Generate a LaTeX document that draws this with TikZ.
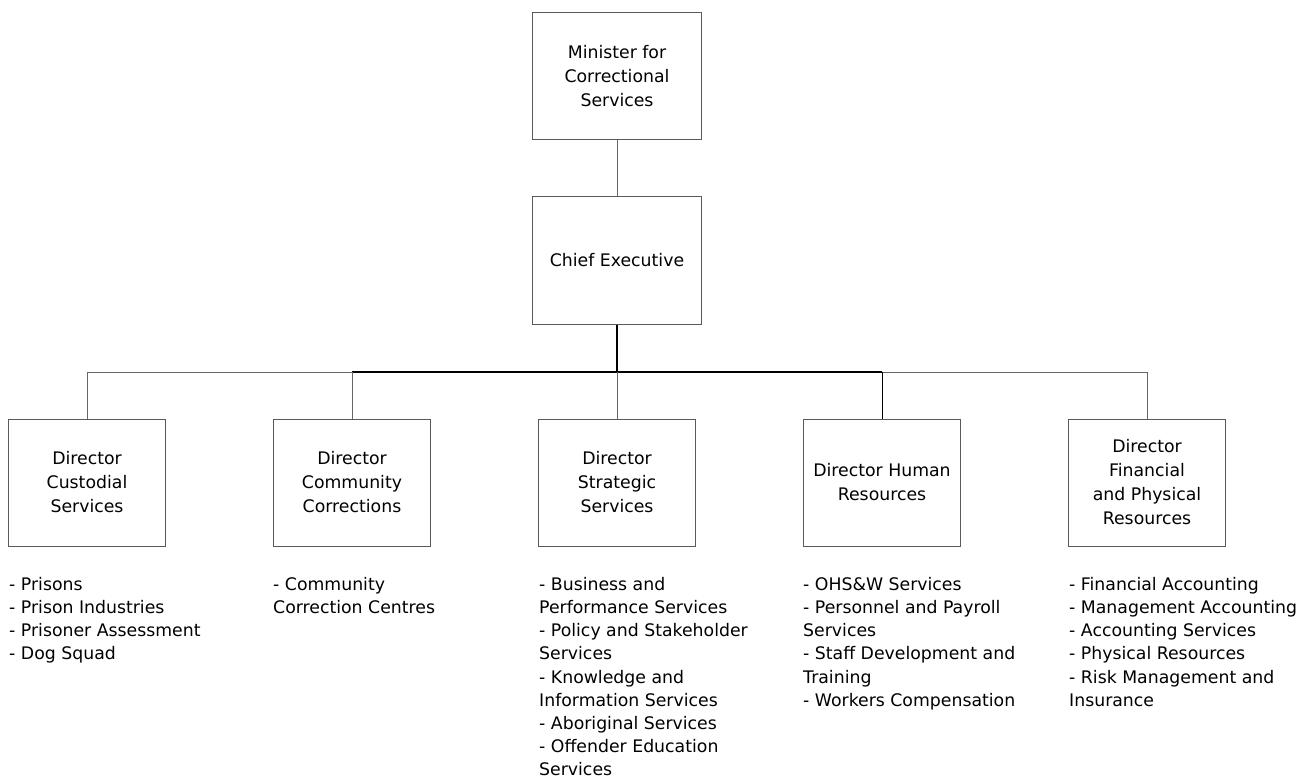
\documentclass[tikz,border=0pt]{standalone}
\usepackage{fontspec}
\setmainfont{DejaVu Sans}
\begin{document}
\begin{tikzpicture}[x=1pt,y=-1pt,
  every node/.style={font=\fontsize{17.3}{24}\selectfont},
  topbox/.style={draw=black!65, line width=1pt, minimum width=169pt, inner sep=0pt, align=center},
  dirbox/.style={draw=black!65, line width=1pt, minimum width=157pt, minimum height=127pt, inner sep=0pt, align=center},
  list/.style={anchor=north west, inner sep=0pt, align=left, font=\fontsize{17.3}{23.2}\selectfont},
  thin/.style={draw=black!60, line width=1pt},
  dark/.style={draw=black, line width=1.4pt}]
\useasboundingbox (0,0) rectangle (1305,778);

\node[topbox, minimum height=126.5pt] (min) at (617,75.8) {Minister for\\Correctional\\Services};
\node[topbox, minimum height=128pt] (ceo) at (617,260) {Chief Executive};

\node[dirbox] (d1) at (87,482.5) {Director\\Custodial\\Services};
\node[dirbox] (d2) at (352,482.5) {Director\\Community\\Corrections};
\node[dirbox] (d3) at (617,482.5) {Director\\Strategic\\Services};
\node[dirbox] (d4) at (882,482.5) {Director Human\\Resources};
\node[dirbox] (d5) at (1147,482.5) {Director\\Financial\\and Physical\\Resources};

\coordinate (j1) at (87,372);
\coordinate (j2) at (352,372);
\coordinate (j3) at (617,372);
\coordinate (j4) at (882,372);
\coordinate (j5) at (1147,372);

\draw[thin] (min.south) -- (ceo.north);
\draw[dark] (ceo.south) -- (j3);
\draw[thin] (j1) -- (j2);
\draw[dark] (j2) -- (j4);
\draw[thin] (j4) -- (j5);
\draw[thin] (j1) -- (d1.north);
\draw[thin] (j2) -- (d2.north);
\draw[thin] (j3) -- (d3.north);
\draw[draw=black, line width=1pt] (j4) -- (d4.north);
\draw[thin] (j5) -- (d5.north);

\node[list] (l1) at (9,577) {- Prisons\\- Prison Industries\\- Prisoner Assessment\\- Dog Squad};
\node[list] (l2) at (273,577) {- Community\\Correction Centres};
\node[list] (l3) at (539,577) {- Business and\\Performance Services\\- Policy and Stakeholder\\Services\\- Knowledge and\\Information Services\\- Aboriginal Services\\- Offender Education\\Services};
\node[list] (l4) at (803,577) {- OHS\&W Services\\- Personnel and Payroll\\Services\\- Staff Development and\\Training\\- Workers Compensation};
\node[list] (l5) at (1069,577) {- Financial Accounting\\- Management Accounting\\- Accounting Services\\- Physical Resources\\- Risk Management and\\Insurance};
\end{tikzpicture}
\end{document}
